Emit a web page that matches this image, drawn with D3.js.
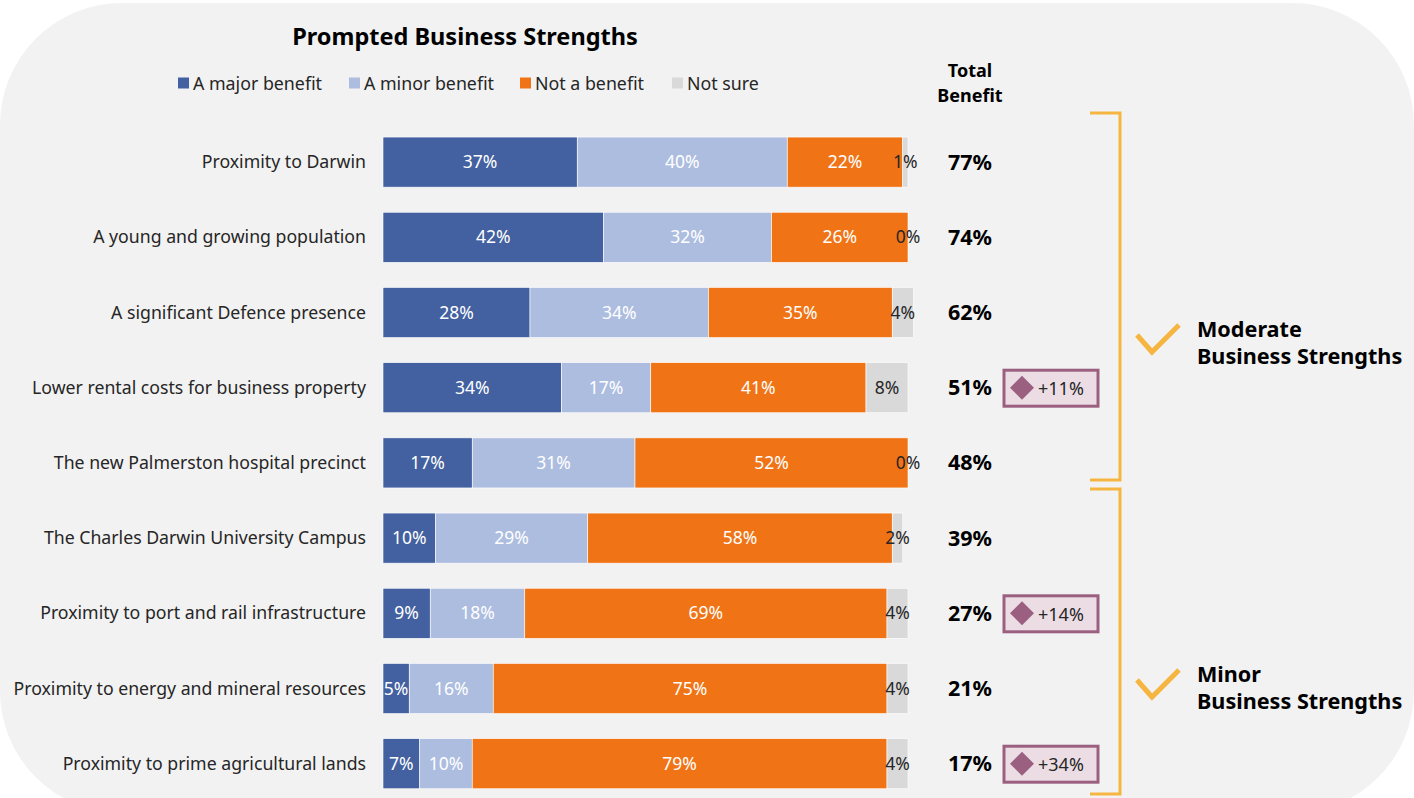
<!DOCTYPE html>
<html>
<head>
<meta charset="utf-8">
<script src="https://cdn.jsdelivr.net/npm/d3@7"></script>
<style>
  html, body { margin: 0; padding: 0; background: #ffffff; }
  svg { display: block; }
  text { font-family: "Noto Sans", "Open Sans", sans-serif; }
</style>
</head>
<body>
<svg id="chart" width="1414" height="798"></svg>
<script>
// Prompted business strengths survey data
const categories = [
  "Proximity to Darwin",
  "A young and growing population",
  "A significant Defence presence",
  "Lower rental costs for business property",
  "The new Palmerston hospital precinct",
  "The Charles Darwin University Campus",
  "Proximity to port and rail infrastructure",
  "Proximity to energy and mineral resources",
  "Proximity to prime agricultural lands"
];
const seriesNames = ["A major benefit", "A minor benefit", "Not a benefit", "Not sure"];
const majorBenefit = [37, 42, 28, 34, 17, 10, 9, 5, 7];
const minorBenefit = [40, 32, 34, 17, 31, 29, 18, 16, 10];
const notBenefit   = [22, 26, 35, 41, 52, 58, 69, 75, 79];
const notSure      = [1, 0, 4, 8, 0, 2, 4, 4, 4];
const totalBenefit = [77, 74, 62, 51, 48, 39, 27, 21, 17];
// change badges (row index -> label)
const changeRows   = [3, 6, 8];
const changeLabels = ["+11%", "+14%", "+34%"];
// strength groupings (first row, last row, label lines)
const groups = [
  { first: 0, last: 4, lines: ["Moderate", "Business Strengths"] },
  { first: 5, last: 8, lines: ["Minor", "Business Strengths"] }
];

const colors = ["#4361a0", "#adbde0", "#f07416", "#d9d9d9"];
const labelColors = ["#ffffff", "#ffffff", "#ffffff", "#262626"];
const accent = "#f6b540";
const badgeStroke = "#9b6080";

const svg = d3.select("#chart");

// rounded panel behind everything
svg.append("rect")
  .attr("x", 0).attr("y", 3)
  .attr("width", 1414).attr("height", 810)
  .attr("rx", 122).attr("ry", 122)
  .attr("fill", "#f2f2f2");

const rows = categories.map((c, i) => ({
  category: c,
  [seriesNames[0]]: majorBenefit[i],
  [seriesNames[1]]: minorBenefit[i],
  [seriesNames[2]]: notBenefit[i],
  [seriesNames[3]]: notSure[i]
}));

const x = d3.scaleLinear().domain([0, 100]).range([383, 908]);
const y = d3.scaleBand().domain(categories).range([124.5, 801.3])
  .paddingInner(0.334).paddingOuter(0.167);

const stacked = d3.stack().keys(seriesNames)(rows);

// title
svg.append("text")
  .attr("x", 465).attr("y", 45)
  .attr("text-anchor", "middle")
  .attr("font-size", 23.5).attr("font-weight", "bold").attr("fill", "#000")
  .text("Prompted Business Strengths");

// legend
const legendX = [178, 349, 520, 672];
const legend = svg.append("g");
seriesNames.forEach((s, i) => {
  legend.append("rect")
    .attr("x", legendX[i]).attr("y", 77.5)
    .attr("width", 11).attr("height", 11)
    .attr("fill", colors[i]);
  legend.append("text")
    .attr("x", legendX[i] + 15).attr("y", 89.5)
    .attr("font-size", 17.8).attr("fill", "#262626")
    .text(s);
});

// header for totals column
svg.append("text")
  .attr("x", 970).attr("text-anchor", "middle")
  .attr("font-size", 18).attr("font-weight", "bold").attr("fill", "#000")
  .selectAll("tspan").data(["Total", "Benefit"]).join("tspan")
  .attr("x", 970).attr("y", (d, i) => 77 + i * 25)
  .text(d => d);

// category axis labels
svg.append("g").selectAll("text").data(categories).join("text")
  .attr("x", 366)
  .attr("y", d => y(d) + y.bandwidth() / 2)
  .attr("dy", "0.35em")
  .attr("text-anchor", "end")
  .attr("font-size", 17.7).attr("fill", "#262626")
  .text(d => d);

// stacked bars
const layers = svg.append("g").selectAll("g").data(stacked).join("g")
  .attr("fill", (d, i) => colors[i]);

layers.selectAll("rect").data(d => d).join("rect")
  .attr("x", d => x(d[0]))
  .attr("y", d => y(d.data.category))
  .attr("width", d => x(d[1]) - x(d[0]))
  .attr("height", y.bandwidth())
  .attr("stroke", "#ffffff").attr("stroke-width", 0.6);

// segment value labels
const labelLayers = svg.append("g").selectAll("g").data(stacked).join("g")
  .attr("fill", (d, i) => labelColors[i]);

labelLayers.selectAll("text").data(d => d).join("text")
  .attr("x", d => (x(d[0]) + x(d[1])) / 2)
  .attr("y", d => y(d.data.category) + y.bandwidth() / 2)
  .attr("dy", "0.35em")
  .attr("text-anchor", "middle")
  .attr("font-size", 17.5)
  .text(d => Math.round(d[1] - d[0]) + "%");

// total benefit values
svg.append("g").selectAll("text").data(totalBenefit).join("text")
  .attr("x", 970)
  .attr("y", (d, i) => y(categories[i]) + y.bandwidth() / 2)
  .attr("dy", "0.35em")
  .attr("text-anchor", "middle")
  .attr("font-size", 21.5).attr("font-weight", "bold").attr("fill", "#000")
  .text(d => d + "%");

// change badges
const badges = svg.append("g").selectAll("g").data(changeRows).join("g")
  .attr("transform", r => `translate(0,${y(categories[r]) + y.bandwidth() / 2})`);
badges.append("rect")
  .attr("x", 1004).attr("y", -17.5)
  .attr("width", 94).attr("height", 36)
  .attr("fill", "#ecdde5").attr("stroke", badgeStroke).attr("stroke-width", 3);
badges.append("path")
  .attr("d", "M1022,-12 L1034,0 L1022,12 L1010,0 Z")
  .attr("fill", badgeStroke);
badges.append("text")
  .attr("x", 1038).attr("y", 1).attr("dy", "0.35em")
  .attr("font-size", 18).attr("fill", "#262626")
  .text((r, i) => changeLabels[i]);

// group brackets with ticks and labels
groups.forEach((g, gi) => {
  const top = gi === 0 ? 113 : 489;
  const bottom = gi === 0 ? 480 : 794;
  svg.append("path")
    .attr("d", `M1090,${top} H1120 V${bottom} H1090`)
    .attr("fill", "none").attr("stroke", accent).attr("stroke-width", 3);
  const mid = gi === 0 ? 337 : 682;
  svg.append("path")
    .attr("d", `M1137,${mid - 2} L1152,${mid + 15} L1179,${mid - 12}`)
    .attr("fill", "none").attr("stroke", accent).attr("stroke-width", 5);
  svg.append("text")
    .attr("font-size", 21.6).attr("font-weight", "bold").attr("fill", "#000")
    .selectAll("tspan").data(g.lines).join("tspan")
    .attr("x", 1197).attr("y", (d, i) => mid + i * 27)
    .text(d => d);
});
</script>
</body>
</html>
